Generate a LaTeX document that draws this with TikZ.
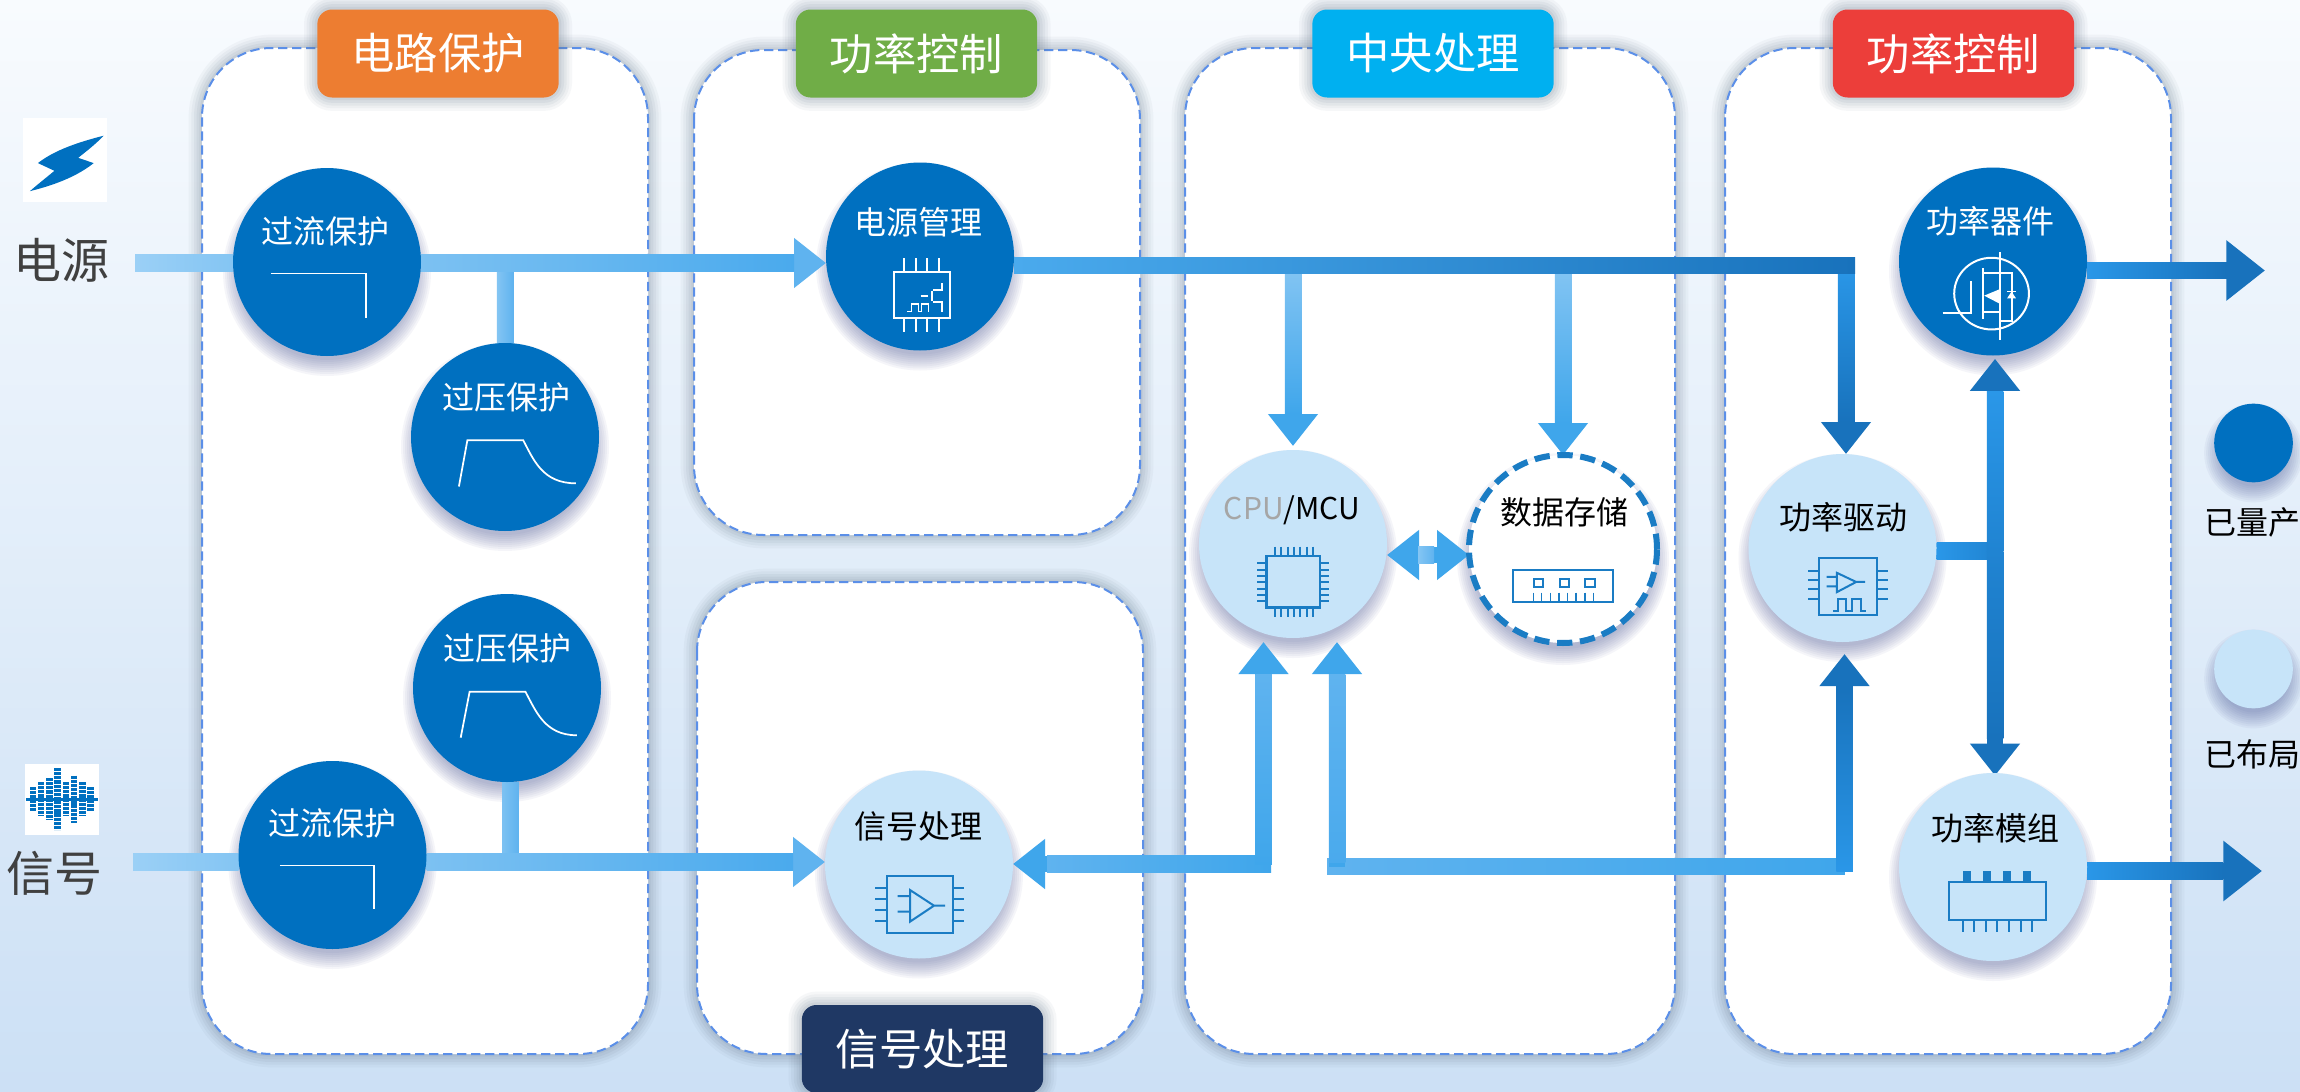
\documentclass[tikz,border=0pt]{standalone}
\usepackage{fontspec}
\setmainfont{Noto Sans CJK SC}
\usetikzlibrary{arrows.meta,calc}
\pgfdeclarelayer{back}
\pgfsetlayers{back,main}

\definecolor{discdark}{HTML}{0070C0}
\definecolor{disclight}{HTML}{C7E4F9}
\definecolor{iconblue}{HTML}{1A7CC4}
\definecolor{edgeblue}{HTML}{5B8FE8}
\definecolor{cardshade}{HTML}{5F7083}
\definecolor{discshade}{HTML}{3F4C8C}
\definecolor{sidegray}{HTML}{404040}
\definecolor{bgtop}{HTML}{F8FBFE}
\definecolor{bgbottom}{HTML}{CCE0F5}
\definecolor{torange}{HTML}{ED7D31}
\definecolor{tgreen}{HTML}{70AD47}
\definecolor{tcyan}{HTML}{00B0F0}
\definecolor{tred}{HTML}{EC3E3A}
\definecolor{tnavy}{HTML}{1F3864}
\definecolor{pale}{HTML}{9BD0F6}
\definecolor{pale2}{HTML}{84C5F3}
\definecolor{sky}{HTML}{7CC1F2}
\definecolor{mid}{HTML}{5FB3EF}
\definecolor{deep}{HTML}{4AAAED}
\definecolor{azure}{HTML}{3FA6EB}
\definecolor{royal}{HTML}{2A97E8}
\definecolor{steel}{HTML}{2084D2}
\definecolor{navybar}{HTML}{1872BC}

\tikzset{every picture/.style={line width=0.75pt}}
\tikzset{
  clayer/.style n args={2}{preaction={draw=cardshade,solid,line width=#1,draw opacity=#2}},
  cardshadow/.style={clayer={20pt}{.05},clayer={16pt}{.06},clayer={12pt}{.07},clayer={8pt}{.08},clayer={4pt}{.09}},
  card/.style={cardshadow,fill=white,draw=edgeblue,line width=1.5pt,dash pattern=on 7pt off 3.5pt,rounded corners=52pt},
  titlebox/.style={cardshadow,fill=#1,rounded corners=11pt,minimum width=181pt,minimum height=66pt,inner sep=0pt,outer sep=0pt,text=white,font=\fontsize{32.5}{36}\selectfont},
  disc/.style={circle,inner sep=0pt,outer sep=0pt,minimum size=141pt},
  ddisc/.style={disc,fill=discdark},
  ldisc/.style={disc,fill=disclight},
  sdisc/.style={disc,fill=white,draw=iconblue,line width=4.5pt,dash pattern=on 11.5pt off 5.75pt,minimum size=141pt},
  dtext/.style={text=white,inner sep=0pt,font=\fontsize{24}{26}\selectfont},
  ltext/.style={text=black,inner sep=0pt,font=\fontsize{24}{26}\selectfont},
  sidetext/.style={text=sidegray,inner sep=0pt,font=\fontsize{36}{38}\selectfont},
  bar/.style={line width=12.4pt,draw=#1},
  headbar/.style={bar=#1,-{Triangle[length=24pt,width=36pt]}},
  bighead/.style={bar=#1,-{Triangle[length=29pt,width=43.5pt]}},
  duohead/.style={bar=#1,{Triangle[length=24pt,width=36pt]}-{Triangle[length=24pt,width=36pt]}},
  wline/.style={draw=white,line width=1pt},
  bline/.style={draw=iconblue,line width=1.5pt}
}

\newcommand{\shadeH}[5]{\shade[left color=#4,right color=#5] ($(#1)+(0,-8.25)$) rectangle ($(#2)+(#3,8.25)$);}
\newcommand{\shadeV}[5]{\shade[top color=#4,bottom color=#5] ($(#1)+(-8.25,0)$) rectangle ($(#2)+(8.25,#3)$);}

\begin{document}
\begin{tikzpicture}[x=0.75pt,y=0.75pt,yscale=-1,xscale=1]
	\useasboundingbox (0,0) rectangle (2300,1092);

	\begin{pgfonlayer}{back}
		%Background
		\shade [top color=bgtop,bottom color=bgbottom] (0,0) rectangle (2300,1092);
		%Cards
		\draw [card] (202,48) rectangle (648,1054);
		\draw [card] (694,50) rectangle (1140,535);
		\draw [card] (697,582) rectangle (1143,1054);
		\draw [card] (1185,48) rectangle (1675,1054);
		\draw [card] (1725,48) rectangle (2171,1054);
	\end{pgfonlayer}

	% Titles
	\node [titlebox=torange] (tprot) at (438,53.5) {电路保护};
	\node [titlebox=tgreen] (tpwr) at (916.5,53.5) {功率控制};
	\node [titlebox=tcyan] (tcpu) at (1433,53.5) {中央处理};
	\node [titlebox=tred] (tdrv) at (1953.5,53.5) {功率控制};
	\node [titlebox=tnavy] (tsig) at (922.5,1049) {信号处理};

	% Discs
	\node [ddisc] (gl1) at (327,262) {};
	\node [ddisc] (ov1) at (505,437) {};
	\node [ddisc] (ov2) at (507,688) {};
	\node [ddisc] (gl2) at (332.5,855) {};
	\node [ddisc] (pm) at (920,256.5) {};
	\node [ldisc] (sp) at (919,864.5) {};
	\node [ldisc] (cpu) at (1293,544) {};
	\node [sdisc] (ds) at (1563,549) {};
	\node [ddisc] (pd) at (1993,261.5) {};
	\node [ldisc] (pdrv) at (1842.5,548) {};
	\node [ldisc] (pmod) at (1993,867) {};
	\node [ddisc,minimum size=59pt] (lgd) at (2253.5,443) {};
	\node [ldisc,minimum size=59pt] (lgl) at (2253.5,669) {};

	% Text Node
	\node [dtext] (gl1t) at (325,231.5) {过流保护};
	\node [dtext] (ov1t) at (506,397) {过压保护};
	\node [dtext] (ov2t) at (507.5,648.5) {过压保护};
	\node [dtext] (gl2t) at (332.5,823) {过流保护};
	\node [dtext] (pmt) at (918,222) {电源管理};
	\node [ltext] (spt) at (918,826) {信号处理};
	\node [ltext,font=\fontsize{22.5}{26}\selectfont] (cput) at (1292,510) {{\color[HTML]{A6A6A6}CPU}/MCU};
	\node [ltext] (dst) at (1564,512) {数据存储};
	\node [dtext] (pdt) at (1990,221) {功率器件};
	\node [ltext] (pdrvt) at (1843,517) {功率驱动};
	\node [ltext] (pmodt) at (1995,828) {功率模组};
	\node [ltext] (lgdt) at (2252,522) {已量产};
	\node [ltext] (lglt) at (2252,754) {已布局};
	\node [sidetext] (pwrt) at (61,260) {电源};
	\node [sidetext] (sigt) at (55,873) {信号};

	% Free ends
	\coordinate (pin) at (135,263);
	\coordinate (sin) at (133,862);
	\coordinate (j1) at (ov1.north |- pin);
	\coordinate (j2) at (510.5,862);
	\coordinate (busE) at (1855,265.5);
	\coordinate (dv1) at (1846,265.5);
	\coordinate (outA) at (2265,270.5);
	\coordinate (outB) at (2262,871);
	\coordinate (vb) at (1995,551);
	\coordinate (vbt) at (1995,391);
	\coordinate (c1r) at (1271,864);
	\coordinate (c1l) at (1047,864);
	\coordinate (c1) at (1263.5,864);
	\coordinate (c1t) at (1263.5,674);
	\coordinate (c2l) at (1327,866.5);
	\coordinate (c2) at (1337,866.5);
	\coordinate (c2t) at (1337,674);
	\coordinate (c3) at (1844.5,866.5);
	\coordinate (c3t) at (1844.5,687);
	\coordinate (cd) at (1427,555);
	\coordinate (cdl) at (1418,555);
	\coordinate (cdr) at (1434,555);

	\begin{pgfonlayer}{back}
		%Disc shadows
		\foreach \dn/\rr in {gl1/94,ov1/94,ov2/94,gl2/94,pm/94,sp/94,cpu/94,ds/96,pd/94,pdrv/94,pmod/94,lgd/39.4,lgl/39.4}
			\foreach \dd in {10,8,6,4,2,0,-2,-4,-6}
				\fill [discshade,opacity=.05] ($(\dn)+(0,10)$) circle [radius=\rr+\dd];

		%Power line
		\draw [bar=pale] (pin) -- (pin -| gl1.west);
		\shadeH{pin}{pin -| gl1.west}{0}{pale}{pale2}
		\draw [bar=sky] (j1) -- (ov1.north);
		\shade [left color=pale2,right color=mid] ($(j1)+(-8.25,0)$) rectangle ($(ov1.north)+(8.25,0)$);
		\draw [headbar=mid] (pin -| gl1.east) -- (pin -| pm.west);
		\shadeH{pin -| gl1.east}{pin -| pm.west}{-32}{sky}{deep}

		%Signal line
		\draw [bar=pale] (sin) -- (sin -| gl2.west);
		\shadeH{sin}{sin -| gl2.west}{0}{pale}{pale2}
		\draw [bar=sky] (j2 |- ov2.south) -- (j2);
		\shade [left color=sky,right color=mid] ($(j2 |- ov2.south)+(-8.25,0)$) rectangle ($(j2)+(8.25,0)$);
		\draw [headbar=mid] (sin -| gl2.east) -- (sin -| sp.west);
		\shadeH{sin -| gl2.east}{sin -| sp.west}{-32}{sky}{deep}

		%Main bus
		\draw [headbar=azure,shorten >=3pt] (cpu.north |- busE) -- (cpu.north);
		\shadeV{cpu.north |- busE}{cpu.north}{-36}{pale2}{azure}
		\draw [headbar=azure] (ds.north |- busE) -- (ds.north);
		\shadeV{ds.north |- busE}{ds.north}{-32}{pale2}{azure}
		\draw [headbar=navybar] (dv1) -- (dv1 |- pdrv.north);
		\shadeV{dv1}{dv1 |- pdrv.north}{-32}{royal}{navybar}
		\draw [bar=steel] (busE -| pm.east) -- (busE);
		\shadeH{busE -| pm.east}{busE}{0}{deep}{navybar}

		%Outputs
		\draw [bighead=navybar] (outA -| pd.east) -- (outA);
		\shadeH{outA -| pd.east}{outA}{-39}{royal}{navybar}
		\draw [bighead=navybar] (outB -| pmod.east) -- (outB);
		\shadeH{outB -| pmod.east}{outB}{-39}{royal}{navybar}

		%Driver
		\draw [bar=steel] (vb -| pdrv.east) -- (vb);
		\shadeH{vb -| pdrv.east}{vb}{0}{royal}{steel}
		\draw [headbar=navybar,shorten >=2.5pt] (vb) -- (vb |- pd.south);
		\shadeV{vbt}{vb}{0}{royal}{steel}
		\draw [headbar=navybar,shorten >=-2pt] (vb) -- (vb |- pmod.north);
		\shadeV{vb}{vb |- pmod.north}{-35}{steel}{navybar}

		%Control lines
		\draw [headbar=azure] (c1r) -- (c1r -| sp.east);
		\shadeH{c1l}{c1r}{0}{mid}{azure}
		\draw [bar=deep] (c2l) -- (c3);
		\shadeH{c2l}{c3}{0}{mid}{azure}
		\draw [headbar=azure,shorten >=3pt] (c1) -- (c1 |- cpu.south);
		\shadeV{c1t}{c1}{0}{mid}{azure}
		\draw [headbar=azure,shorten >=3pt] (c2) -- (c2 |- cpu.south);
		\shadeV{c2t}{c2}{-4}{mid}{deep}
		\draw [headbar=navybar,shorten >=9pt] (c3) -- (c3 |- pdrv.south);
		\shadeV{c3t}{c3}{5}{navybar}{royal}
		\draw [duohead=azure] (cd -| cpu.east) -- (cd -| ds.west);
		\shadeH{cdl}{cdr}{0}{pale2}{mid}
	\end{pgfonlayer}

	%Shape: bolt
	\fill [white] (23,118) rectangle (107,202);
	\fill [discdark,xscale=1/2.24,yscale=1/2.851] (232,387) .. controls (160,410) and (115,435) .. (85,465) -- (122,487) .. controls (100,510) and (85,525) .. (67,545) .. controls (130,525) and (175,500) .. (210,465) -- (175,450) .. controls (195,430) and (215,410) .. (232,387) -- cycle;
	%Shape: wave
	\fill [white] (25,764) rectangle (99,835);
	\foreach \cx/\hh in {33/12,41/17,49.5/21,57.6/31,66/17,74/23.5,82.6/17,90.6/12}
		\draw [discdark,line width=4.9pt,dash pattern=on 2.4pt off .7pt] (\cx,799-\hh) -- (\cx,799+\hh);
	\draw [discdark,line width=2.25pt] (26,799) -- (98,799);

	%Shape: limit curves
	\begin{scope}[xscale=1/2.24,yscale=1/2.851]
		\draw [wline] (607,780) -- (820,780) -- (820,907);
		\draw [wline,line width=1.3pt] (1028,1387) -- (1047,1255) -- (1172,1255) .. controls (1195,1310) and (1215,1378) .. (1290,1378);
	\end{scope}
	\begin{scope}[shift={(0,550)},xscale=1/2.24,yscale=1/2.893]
		\draw [wline] (627,913) -- (838,913) -- (838,1040);
		\draw [wline,line width=1.3pt] (1032,543) -- (1052,410) -- (1177,410) .. controls (1200,465) and (1220,536) .. (1292,536);
	\end{scope}

	%Shape: pm chip
	\begin{scope}[shift={(780,130)},scale=1/3]
		\draw [wline,line width=1.5pt] (343,425) rectangle (511,565);
		\foreach \px in {372,407,442,476}
			\draw [wline,line width=1.5pt] (\px,385) -- (\px,425) (\px,565) -- (\px,605);
		\draw [wline] (382,545) -- (395,545) -- (395,522) -- (415,522) -- (415,545) -- (425,545) -- (425,522) -- (445,522) -- (445,545);
		\draw [wline,line width=1.4pt] (422,497) -- (445,497) (456,482) -- (456,512) (460,480) -- (487,480) -- (487,458) (460,515) -- (487,515) -- (487,545);
	\end{scope}

	%Shape: mosfet
	\begin{scope}[shift={(1720,130)},xscale=1/2.703,yscale=1/2.958]
		\draw [wline,line width=1.5pt] (734,484) ellipse [x radius=101,y radius=106];
		\draw [wline,line width=1.5pt] (602,540) -- (678,540) -- (678,447) (710,408) -- (710,560) (758,362) -- (758,622) (710,422) -- (790,422) -- (790,565) -- (758,565) (710,538) -- (758,538);
		\fill [white] (714,490) -- (758,470) -- (758,515) -- cycle (776,498) -- (800,498) -- (788,478) -- cycle;
		\draw [wline] (776,478) -- (800,478);
	\end{scope}

	%Shape: cpu chip
	\begin{scope}[shift={(1180,430)},scale=1/3]
		\draw [bline,line width=1.9pt] (260,378) rectangle (420,532);
		\foreach \i in {0,...,6} {
			\draw [bline] (285+19*\i,350) -- (285+19*\i,378) (285+19*\i,532) -- (285+19*\i,560);
			\draw [bline] (232,400+19*\i) -- (260,400+19*\i) (420,400+19*\i) -- (448,400+19*\i);
		}
	\end{scope}

	%Shape: memory
	\begin{scope}[shift={(1180,430)},scale=1/3]
		\draw [bline] (998,420) rectangle (1300,516);
		\foreach \sx in {1062,1140,1216}
			\draw [bline] (\sx,447) rectangle ++(28,25);
		\foreach \px in {1060,1085,1112,1137,1163,1188,1215,1240}
			\draw [bline,line width=1.2pt] (\px,488) -- (\px,516);
	\end{scope}

	%Shape: amplifier
	\begin{scope}[shift={(780,760)},scale=1/3]
		\draw [bline] (321,347) rectangle (518,518);
		\foreach \py in {385,418,450,482}
			\draw [bline] (285,\py) -- (321,\py) (518,\py) -- (552,\py);
		\draw [bline] (390,390) -- (390,485) -- (462,437) -- cycle (353,408) -- (390,408) (353,455) -- (390,455) (462,437) -- (495,437);
	\end{scope}

	%Shape: driver
	\begin{scope}[shift={(1720,130)},xscale=1/2.703,yscale=1/2.958]
		\draw [bline] (268,1266) rectangle (425,1436);
		\foreach \py in {1305,1332,1358,1386}
			\draw [bline] (238,\py) -- (268,\py) (425,\py) -- (453,\py);
		\draw [bline] (316,1310) -- (316,1367) -- (368,1337) -- cycle (288,1322) -- (316,1322) (288,1350) -- (316,1350) (368,1337) -- (392,1337);
		\draw [bline] (306,1423) -- (320,1423) -- (320,1388) -- (340,1388) -- (340,1423) -- (358,1423) -- (358,1388) -- (380,1388) -- (380,1423) -- (395,1423);
	\end{scope}

	%Shape: module
	\begin{scope}[shift={(1860,760)},scale=1/3]
		\draw [bline] (268,367) rectangle (558,480);
		\foreach \px in {310,370,430,490}
			\fill [iconblue] (\px,333) rectangle ++(22,34);
		\foreach \px in {308,343,377,412,447,482,517}
			\draw [bline] (\px,480) -- (\px,515);
	\end{scope}
\end{tikzpicture}
\end{document}
